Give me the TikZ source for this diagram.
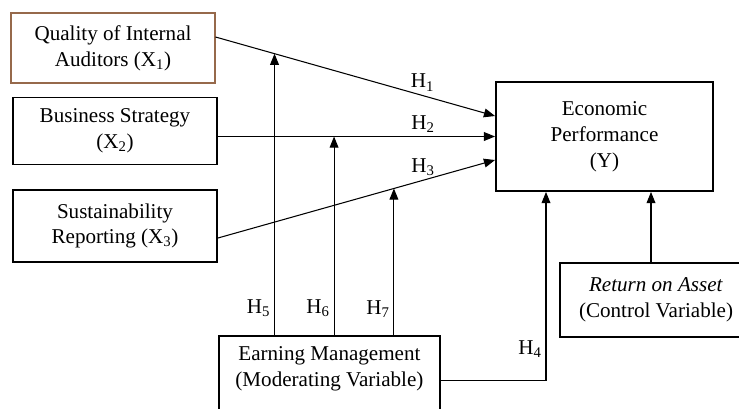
\documentclass[tikz,border=0pt]{standalone}
\usepackage{fontspec}
\setmainfont{Liberation Serif}
\usetikzlibrary{arrows.meta}
\definecolor{boxbrown}{RGB}{150,105,75}

\begin{document}
\begin{tikzpicture}[x=0.03cm, y=-0.03cm, >={Triangle[length=9.5pt,width=7.5pt]},
  every node/.style={font=\fontsize{18}{22}\selectfont},
  var/.style={draw, line width=1.6pt, align=center, inner sep=0pt},
  link/.style={->, line width=0.9pt}]
  \clip (0,0) rectangle (739,408);
  % independent variables
  \node[var, draw=boxbrown, line width=0.9pt, minimum width=6.12cm, minimum height=2.1cm] (x1) at (113,48) {Quality of Internal\\Auditors (X\textsubscript{1})};
  \node[var, minimum width=6.12cm, minimum height=2.01cm] (x2) at (115,131) {Business Strategy\\(X\textsubscript{2})};
  \node[var, minimum width=6.12cm, minimum height=2.16cm] (x3) at (115,226) {Sustainability\\Reporting (X\textsubscript{3})};
  % dependent, control and moderating variables
  \node[var, minimum width=6.51cm, minimum height=3.27cm] (y) at (604.5,136.5) {Economic\\Performance\\(Y)};
  \node[var, minimum width=5.76cm, minimum height=2.22cm] (roa) at (656,300) {\textit{Return on Asset}\\(Control Variable)};
  \node[var, minimum width=6.63cm, minimum height=2.7cm, anchor=north west] (em) at (218,335) {};
  \node[align=center, inner sep=0pt] (emtxt) at ([yshift=0.36cm]em.center) {Earning Management\\(Moderating Variable)};

  \draw[link] ([yshift=0.33cm]x1.east) -- coordinate[pos=0.211] (m1) node[above, pos=0.74] {H\textsubscript{1}} ([yshift=0.615cm]y.west);
  \draw[link] (x2.east |- y.west) -- coordinate[pos=0.419] (m2) node[above, pos=0.74] {H\textsubscript{2}} (y.west);
  \draw[link] ([yshift=-0.36cm]x3.east) -- coordinate[pos=0.635] (m3) node[above, pos=0.74] {H\textsubscript{3}} ([yshift=-0.705cm]y.west);

  \draw[link] (m1 |- em.north) -- node[left, pos=0.096] {H\textsubscript{5}} (m1);
  \draw[link] (m2 |- em.north) -- node[left, pos=0.136] {H\textsubscript{6}} (m2);
  \draw[link] (m3 |- em.north) -- node[left, pos=0.18] {H\textsubscript{7}} (m3);

  \draw[link] (em.east) -| node[left, pos=0.585] {H\textsubscript{4}} ([xshift=-1.755cm]y.south);
  \coordinate (c) at ([xshift=1.395cm]y.south);
  \draw[link] (c |- roa.north) -- (c);
\end{tikzpicture}
\end{document}
